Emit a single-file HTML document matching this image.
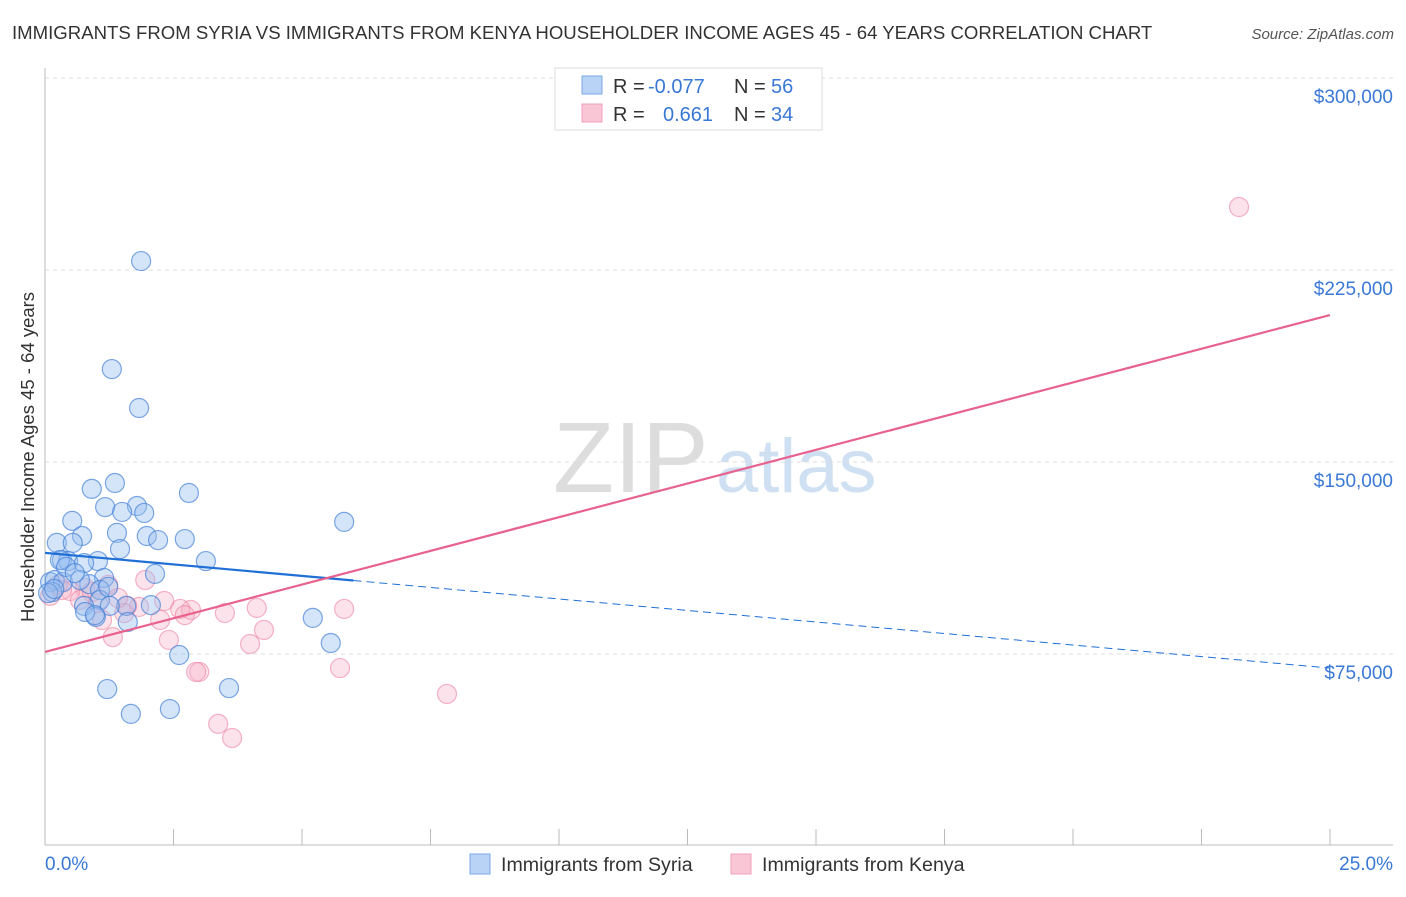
<!DOCTYPE html>
<html><head><meta charset="utf-8"><style>
body{margin:0;background:#fff;font-family:"Liberation Sans",sans-serif;}
svg text{font-family:"Liberation Sans",sans-serif;}
</style></head><body>
<svg id="chart" width="1406" height="892" viewBox="0 0 1406 892">
<text x="12" y="39" font-size="18.6" fill="#333">IMMIGRANTS FROM SYRIA VS IMMIGRANTS FROM KENYA HOUSEHOLDER INCOME AGES 45 - 64 YEARS CORRELATION CHART</text>
<text x="1394" y="39" font-size="15" fill="#555" font-style="italic" text-anchor="end">Source: ZipAtlas.com</text>
<g>
<text x="553" y="492" font-size="100" fill="#ddd" font-family="Liberation Serif">ZIP</text>
<text x="716" y="492" font-size="76" fill="#cfe0f3">atlas</text>
</g>
<g id="grid"></g>
<g id="axes"></g>
<g id="marks"></g>
<g>
<rect x="555" y="68" width="267" height="62" fill="#fff" stroke="#ddd"/>
<rect x="582" y="76" width="20" height="18" fill="#b8d3f5" stroke="#7aa8e6"/>
<rect x="582" y="104" width="20" height="18" fill="#f9c6d6" stroke="#f0a0b8"/>
<text y="93" font-size="20"><tspan x="613" fill="#333">R = </tspan><tspan x="648" fill="#3a78d6">-0.077</tspan><tspan x="734" fill="#333">N = </tspan><tspan x="771" fill="#3a78d6">56</tspan></text>
<text y="121" font-size="20"><tspan x="613" fill="#333">R = </tspan><tspan x="663" fill="#3a78d6">0.661</tspan><tspan x="734" fill="#333">N = </tspan><tspan x="771" fill="#3a78d6">34</tspan></text>
</g>
<g>
<rect x="470" y="854" width="20" height="20" fill="#b8d3f5" stroke="#7aa8e6"/>
<text x="501" y="871" font-size="19.6" fill="#333">Immigrants from Syria</text>
<rect x="731" y="854" width="20" height="20" fill="#f9c6d6" stroke="#f0a0b8"/>
<text x="762" y="871" font-size="19.6" fill="#333">Immigrants from Kenya</text>
</g>
<text transform="translate(34,457) rotate(-90)" font-size="18.5" fill="#333" text-anchor="middle">Householder Income Ages 45 - 64 years</text>
</svg>
<script>
const yTicks=[75000,150000,225000,300000];
const yTickLabels=["$75,000","$150,000","$225,000","$300,000"];
const xTickLabels=["0.0%","25.0%"];
const syriaX=[1.87,1.30,1.83,1.36,0.91,2.80,1.17,1.79,0.53,5.82,1.50,1.93,0.72,1.40,1.98,2.20,2.72,0.23,0.54,1.46,0.33,1.03,0.45,0.76,3.13,0.29,1.15,2.14,0.10,0.19,0.35,0.86,0.68,1.07,0.14,1.07,0.76,2.06,1.58,1.26,0.99,1.61,5.21,5.56,2.61,1.21,3.58,1.67,2.43,0.06,0.18,1.23,0.78,0.97,0.41,0.58];
const syriaY=[228.5,186.3,171.1,141.8,139.5,137.9,132.4,132.8,127.0,126.6,130.5,130.1,121.1,122.3,121.1,119.5,119.9,118.4,118.4,116.0,111.7,111.3,111.3,110.5,111.3,111.7,104.7,106.3,103.1,103.9,103.1,102.3,103.9,100.0,99.2,96.1,93.8,94.1,93.8,93.8,89.5,87.5,89.1,79.3,74.6,61.3,61.7,51.6,53.5,98.8,100.4,101.2,91.4,90.2,109.0,106.6];
const kenyaX=[23.23,5.82,5.74,7.82,4.12,4.26,3.99,3.50,3.37,3.64,3.00,2.94,2.41,2.84,2.63,2.72,2.32,2.24,1.95,1.83,1.60,1.32,1.54,1.23,0.78,0.49,0.25,0.10,0.33,0.68,0.91,1.42,1.03,1.11];
const kenyaY=[249.6,92.6,69.5,59.4,93.0,84.4,78.9,91.0,47.7,42.2,68.0,68.0,80.5,92.2,92.6,90.2,95.7,88.3,103.9,93.4,93.8,81.6,91.0,102.0,100.8,99.6,102.0,97.7,100.0,96.1,99.2,96.9,94.9,88.3];
const syriaTrend=[114.5,69.5];
const kenyaTrend=[75.8,207.4];
const syriaSolidEnd=6.0;

const NS="http://www.w3.org/2000/svg";
const X0=45,X1=1330,Y0=846;
const xs=p=>X0+(p/25)*(X1-X0);
const ys=v=>Y0-(v/75000)*192;
const ysk=k=>ys(k*1000);
function mk(tag,attrs,parent){const e=document.createElementNS(NS,tag);for(const k in attrs)e.setAttribute(k,attrs[k]);parent.appendChild(e);return e;}
const grid=document.getElementById('grid'),axes=document.getElementById('axes'),marks=document.getElementById('marks');
yTicks.forEach((t,i)=>{
 const l=mk('line',{x1:X0,x2:1393,y1:ys(t),y2:ys(t),stroke:'#ddd','stroke-dasharray':'4,4'},grid);
 
 
 const tx=mk('text',{x:1393,y:ys(t)+25,'font-size':19,fill:'#3a78d6','text-anchor':'end'},axes);
 tx.textContent=yTickLabels[i];
 
 
});
const ax=mk('line',{x1:X0,x2:1393,y1:845,y2:845,stroke:'#bbb'},axes);


const ay=mk('line',{x1:X0,x2:X0,y1:68,y2:845,stroke:'#bbb'},axes);


for(let i=0;i<=10;i++){
 const t=mk('line',{x1:xs(i*2.5),x2:xs(i*2.5),y1:829,y2:845,stroke:'#bbb'},axes);
 
 
}
const xl0=mk('text',{x:45,y:870,'font-size':19,fill:'#3a78d6'},axes);xl0.textContent=xTickLabels[0];


const xl1=mk('text',{x:1393,y:870,'font-size':19,fill:'#3a78d6','text-anchor':'end'},axes);xl1.textContent=xTickLabels[1];



function pts(X,Y,fill,stroke,name){
 X.forEach((x,i)=>{
  const c=mk('circle',{cx:xs(x),cy:ysk(Y[i]),r:9.5,fill:fill,stroke:stroke,'stroke-width':1.2},marks);
  
  
 });
}
pts(kenyaX,kenyaY,'rgba(246,176,198,0.35)','rgba(236,130,162,0.6)','kenya-point');
pts(syriaX,syriaY,'rgba(150,190,240,0.4)','rgba(70,130,215,0.7)','syria-point');
const syLine=t=>syriaTrend[0]+(syriaTrend[1]-syriaTrend[0])*t/25;
const s1=mk('line',{x1:xs(0),y1:ysk(syLine(0)),x2:xs(syriaSolidEnd),y2:ysk(syLine(syriaSolidEnd)),stroke:'#1f6fd6','stroke-width':2.2},marks);


const s2=mk('line',{x1:xs(syriaSolidEnd),y1:ysk(syLine(syriaSolidEnd)),x2:xs(25),y2:ysk(syLine(25)),stroke:'#1f6fd6','stroke-width':1,'stroke-dasharray':'8,5'},marks);


const k1=mk('line',{x1:xs(0),y1:ysk(kenyaTrend[0]),x2:xs(25),y2:ysk(kenyaTrend[1]),stroke:'#e8628e','stroke-width':2.2},marks);


</script>
</body></html>
